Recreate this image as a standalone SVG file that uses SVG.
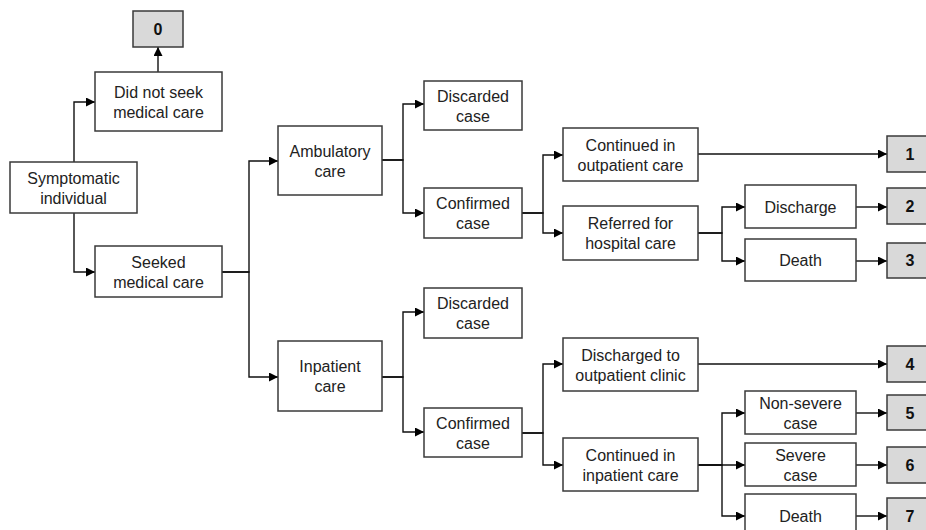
<svg xmlns="http://www.w3.org/2000/svg" width="926" height="530" viewBox="0 0 926 530">
<style>
.b{fill:#fff;stroke:#3a3a3a;stroke-width:1.5}
.g{fill:#d9d9d9;stroke:#3a3a3a;stroke-width:1.5}
.t{font-family:"Liberation Sans",Arial,sans-serif;font-size:16px;fill:#222;text-anchor:middle}
.n{font-family:"Liberation Sans",Arial,sans-serif;font-size:16px;font-weight:bold;fill:#111;text-anchor:middle}
.c path{fill:none;stroke:#111;stroke-width:1.4;marker-end:url(#ah)}
</style>
<defs>
<marker id="ah" viewBox="0 0 10 10" refX="10" refY="5" markerUnits="userSpaceOnUse" markerWidth="9" markerHeight="9" orient="auto">
<path d="M0,0 L10,5 L0,10 z" fill="#000"/>
</marker>
</defs>
<rect width="926" height="530" fill="#fff"/>
<g class="c" id="connectors">
<path d="M74,162 V102 H95"/>
<path d="M74,213 V272 H95"/>
<path d="M158,72 V47"/>
<path d="M222,272 H249 V161 H278"/>
<path d="M222,272 H249 V377 H278"/>
<path d="M382,160 H403 V104 H424"/>
<path d="M382,160 H403 V213 H424"/>
<path d="M522,213 H543 V155 H563"/>
<path d="M522,213 H543 V233 H563"/>
<path d="M698,154 H887"/>
<path d="M698,233 H722 V207 H745"/>
<path d="M698,233 H722 V261 H745"/>
<path d="M856,207 H887"/>
<path d="M856,261 H887"/>
<path d="M382,377 H403 V312 H424"/>
<path d="M382,377 H403 V432 H424"/>
<path d="M522,433 H543 V364 H563"/>
<path d="M522,433 H543 V465 H563"/>
<path d="M698,364 H887"/>
<path d="M698,465 H722 V413 H745"/>
<path d="M698,465 H745"/>
<path d="M698,465 H722 V516 H745"/>
<path d="M856,413 H887"/>
<path d="M856,465 H887"/>
<path d="M856,516 H887"/>
</g>
<g id="n0"><rect class="g" x="133" y="11" width="50" height="36"/><text class="n" x="158" y="35">0</text></g>
<g id="didnot"><rect class="b" x="95" y="72" width="127" height="59"/><text class="t" x="158.5" y="97.5">Did not seek</text><text class="t" x="158.5" y="117.5">medical care</text></g>
<g id="symptomatic"><rect class="b" x="10" y="162" width="127" height="51"/><text class="t" x="73.5" y="183.5">Symptomatic</text><text class="t" x="73.5" y="203.5">individual</text></g>
<g id="seeked"><rect class="b" x="95" y="246" width="127" height="51"/><text class="t" x="158.5" y="267.5">Seeked</text><text class="t" x="158.5" y="287.5">medical care</text></g>
<g id="ambulatory"><rect class="b" x="278" y="126" width="104" height="69"/><text class="t" x="330" y="156.5">Ambulatory</text><text class="t" x="330" y="176.5">care</text></g>
<g id="inpatient"><rect class="b" x="278" y="341" width="104" height="70"/><text class="t" x="330" y="372">Inpatient</text><text class="t" x="330" y="392">care</text></g>
<g id="discarded1"><rect class="b" x="424" y="81" width="98" height="49"/><text class="t" x="473" y="101.5">Discarded</text><text class="t" x="473" y="121.5">case</text></g>
<g id="confirmed1"><rect class="b" x="424" y="188" width="98" height="50"/><text class="t" x="473" y="209">Confirmed</text><text class="t" x="473" y="229">case</text></g>
<g id="discarded2"><rect class="b" x="424" y="288" width="98" height="50"/><text class="t" x="473" y="309">Discarded</text><text class="t" x="473" y="329">case</text></g>
<g id="confirmed2"><rect class="b" x="424" y="408" width="98" height="49"/><text class="t" x="473" y="428.5">Confirmed</text><text class="t" x="473" y="448.5">case</text></g>
<g id="contout"><rect class="b" x="563" y="128" width="135" height="53"/><text class="t" x="630.5" y="150.5">Continued in</text><text class="t" x="630.5" y="170.5">outpatient care</text></g>
<g id="referred"><rect class="b" x="563" y="206" width="135" height="54"/><text class="t" x="630.5" y="229">Referred for</text><text class="t" x="630.5" y="249">hospital care</text></g>
<g id="discharged"><rect class="b" x="563" y="338" width="135" height="53"/><text class="t" x="630.5" y="360.5">Discharged to</text><text class="t" x="630.5" y="380.5">outpatient clinic</text></g>
<g id="contin"><rect class="b" x="563" y="438" width="135" height="53"/><text class="t" x="630.5" y="460.5">Continued in</text><text class="t" x="630.5" y="480.5">inpatient care</text></g>
<g id="discharge"><rect class="b" x="745" y="185" width="111" height="43"/><text class="t" x="800.5" y="212.5">Discharge</text></g>
<g id="death1"><rect class="b" x="745" y="239" width="111" height="42"/><text class="t" x="800.5" y="266">Death</text></g>
<g id="nonsevere"><rect class="b" x="745" y="391" width="111" height="43"/><text class="t" x="800.5" y="408.5">Non-severe</text><text class="t" x="800.5" y="428.5">case</text></g>
<g id="severe"><rect class="b" x="745" y="443" width="111" height="43"/><text class="t" x="800.5" y="460.5">Severe</text><text class="t" x="800.5" y="480.5">case</text></g>
<g id="death2"><rect class="b" x="745" y="494" width="111" height="44"/><text class="t" x="800.5" y="522">Death</text></g>
<g id="n1"><rect class="g" x="887" y="136" width="48" height="36"/><text class="n" x="910" y="160">1</text></g>
<g id="n2"><rect class="g" x="887" y="188" width="48" height="36"/><text class="n" x="910" y="212">2</text></g>
<g id="n3"><rect class="g" x="887" y="243" width="48" height="35"/><text class="n" x="910" y="266">3</text></g>
<g id="n4"><rect class="g" x="887" y="346" width="48" height="36"/><text class="n" x="910" y="370">4</text></g>
<g id="n5"><rect class="g" x="887" y="395" width="48" height="35"/><text class="n" x="910" y="418.5">5</text></g>
<g id="n6"><rect class="g" x="887" y="447" width="48" height="36"/><text class="n" x="910" y="471">6</text></g>
<g id="n7"><rect class="g" x="887" y="498" width="48" height="36"/><text class="n" x="910" y="522">7</text></g>
</svg>
